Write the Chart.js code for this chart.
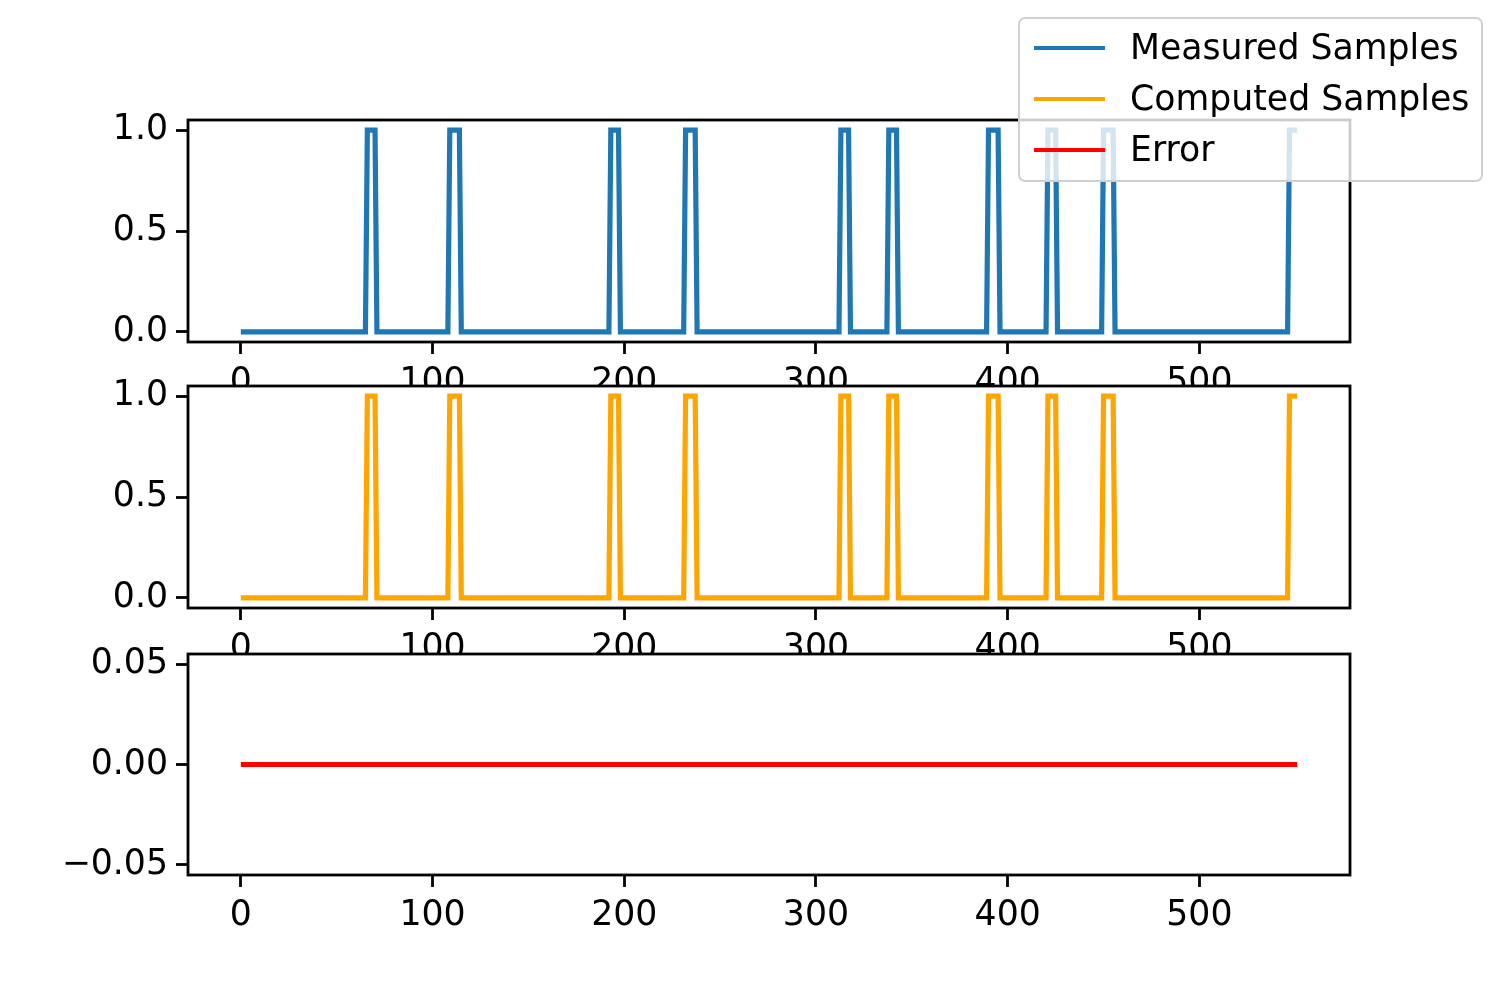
<!DOCTYPE html>
<html>
<head>
<meta charset="utf-8">
<script src="https://cdn.jsdelivr.net/npm/chart.js@4/dist/chart.umd.min.js"></script>
<style>
  body { margin: 0; background: #fff; }
  #wrap { position: relative; width: 1500px; height: 1000px; font-family: "DejaVu Sans", sans-serif; }
  canvas { position: absolute; left: 0; top: 0; }
  #legend { position: absolute; left: 1018px; top: 17px; width: 461px; height: 161px;
    border: 2px solid #d0d0d0; border-radius: 7px; background: rgba(255,255,255,0.8); z-index: 10; }
  .row { position: absolute; left: 0; font-size: 34.7px; line-height: 40px; color: #000; }
  .row span { position: absolute; left: 14px; top: 19px; width: 71px; height: 4px; }
  .row b { position: absolute; left: 110px; top: 0; font-weight: normal; white-space: nowrap; }
</style>
</head>
<body>
<div id="wrap">
  <canvas id="c1" width="1500" height="1000" style="z-index:1"></canvas>
  <canvas id="c2" width="1500" height="1000" style="z-index:2"></canvas>
  <canvas id="c3" width="1500" height="1000" style="z-index:3"></canvas>
  <div id="legend">
    <div class="row" style="top:8px"><span style="background:#1f77b4"></span><b>Measured Samples</b></div>
    <div class="row" style="top:59px"><span style="background:#ffa500"></span><b>Computed Samples</b></div>
    <div class="row" style="top:110px"><span style="background:#ff0000"></span><b>Error</b></div>
  </div>
</div>
<script>
// pulse edges (first and last sample index at 1)
const pulseStarts = [66, 109, 193, 232, 313, 338, 390, 421, 450, 547];
const pulseEnds   = [70, 114, 197, 237, 317, 342, 395, 425, 455, 551];
const lastSample = 551;
const xTicks = [0, 100, 200, 300, 400, 500];
const yTicksPulse = [0, 0.5, 1.0];
const yTicksError = [-0.05, 0, 0.05];

// turn the edges into line points
function edgePoints() {
  const pts = [{x: 0, y: 0}];
  for (let i = 0; i < pulseStarts.length; i++) {
    pts.push({x: pulseStarts[i] - 1, y: 0});
    pts.push({x: pulseStarts[i], y: 1});
    pts.push({x: pulseEnds[i], y: 1});
    if (pulseEnds[i] < lastSample) pts.push({x: pulseEnds[i] + 1, y: 0});
  }
  return pts;
}
const measured = edgePoints();
const computed = edgePoints();
const errorPts = measured.map((p, i) => ({x: p.x, y: p.y - computed[i].y}));

const FONT = {family: "DejaVu Sans", size: 34.7};

const boxPlugin = {
  id: 'box',
  beforeDraw(chart) {
    const a = chart.chartArea, ctx = chart.ctx;
    ctx.save(); ctx.fillStyle = '#fff';
    ctx.fillRect(a.left, a.top, a.right - a.left, a.bottom - a.top);
    ctx.restore();
  },
  afterDraw(chart) {
    const a = chart.chartArea, ctx = chart.ctx;
    ctx.save(); ctx.strokeStyle = '#000'; ctx.lineWidth = 2.8;
    ctx.strokeRect(a.left, a.top, a.right - a.left, a.bottom - a.top);
    ctx.restore();
  }
};

function makeChart(id, pts, color, top, bottom, yMin, yMax, yTicks, digits) {
  new Chart(document.getElementById(id), {
    type: 'line',
    data: {datasets: [{data: pts, borderColor: color, borderWidth: 5.2, pointRadius: 0, tension: 0, fill: false}]},
    options: {
      responsive: false, animation: false,
      layout: {padding: {left: 38, right: 150, top: top, bottom: 1000 - bottom - 80}},
      plugins: {legend: {display: false}, tooltip: {enabled: false}},
      scales: {
        x: {
          type: 'linear', min: -27.55, max: 578.55,
          afterBuildTicks: s => { s.ticks = xTicks.map(v => ({value: v})); },
          afterFit: s => { s.height = 80; },
          border: {display: false},
          grid: {drawOnChartArea: false, drawTicks: true, tickLength: 12, tickWidth: 2.8, tickColor: '#000'},
          ticks: {color: '#000', font: FONT, padding: 8, maxRotation: 0, autoSkip: false}
        },
        y: {
          min: yMin, max: yMax,
          afterBuildTicks: s => { s.ticks = yTicks.map(v => ({value: v})); },
          afterFit: s => { s.width = 150; },
          border: {display: false},
          grid: {drawOnChartArea: false, drawTicks: true, tickLength: 12, tickWidth: 2.8, tickColor: '#000'},
          ticks: {color: '#000', font: FONT, padding: 8,
            callback: v => v.toFixed(digits).replace('-', '\u2212')}
        }
      }
    },
    plugins: [boxPlugin]
  });
}

makeChart('c1', measured, '#1f77b4', 120, 342, -0.05, 1.05, yTicksPulse, 1);
makeChart('c2', computed, '#ffa500', 386, 608, -0.05, 1.05, yTicksPulse, 1);
makeChart('c3', errorPts, '#ff0000', 654, 875, -0.055, 0.055, yTicksError, 2);
</script>
</body>
</html>
